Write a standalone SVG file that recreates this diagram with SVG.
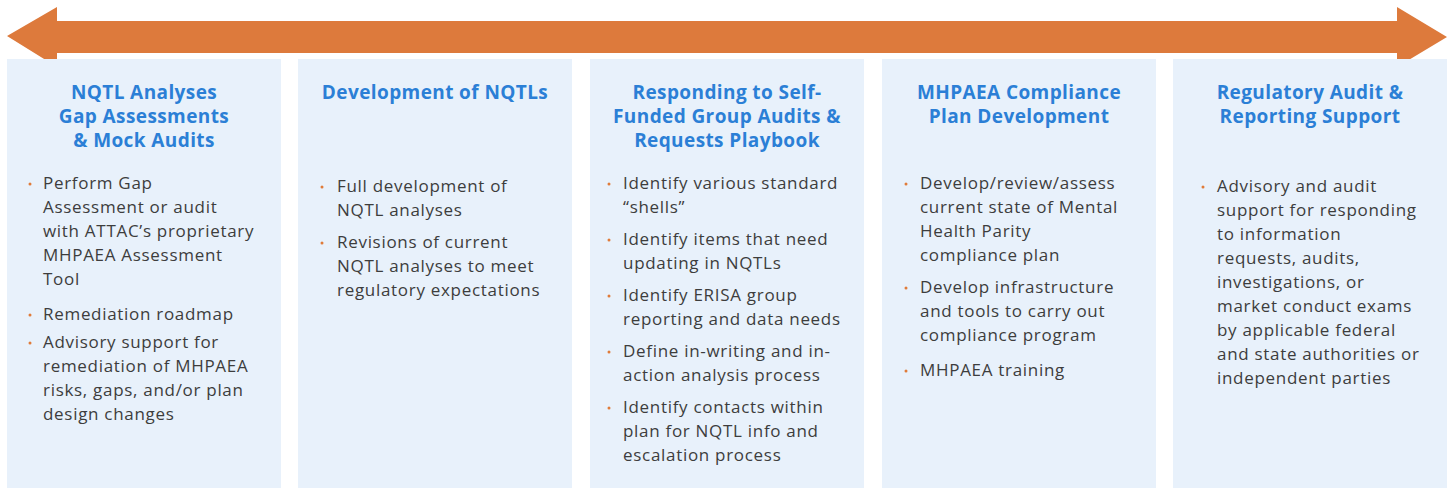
<svg xmlns="http://www.w3.org/2000/svg" width="1453" height="488" viewBox="0 0 1453 488">
<style>
.panel{fill:#e8f1fb}
.h{font-family:"Open Sans","Liberation Sans",sans-serif;font-weight:700;font-size:19px;letter-spacing:0.4px;fill:#2b7fd6;text-anchor:middle}
.t{font-family:"Open Sans","Liberation Sans",sans-serif;font-size:17px;letter-spacing:0.7px;fill:#3d3d3d}
.d{fill:#e07b39}
</style>
<rect width="1453" height="488" fill="#ffffff"/>
<g id="timeline-arrow">
<polygon points="7,36 57,7 57,21 1397,21 1397,7 1447,37 1397,67 1397,53 57,53 57,67" fill="#dd7a3c"/>
</g>
<g id="panel-1">
<rect class="panel" x="7" y="59" width="274" height="429"/>
<text class="h" x="144" y="99">NQTL Analyses</text>
<text class="h" x="144" y="123">Gap Assessments</text>
<text class="h" x="144" y="147">&amp; Mock Audits</text>
<circle class="d" cx="30" cy="184" r="1.5"/>
<text class="t" x="43" y="189">Perform Gap</text>
<text class="t" x="43" y="213">Assessment or audit</text>
<text class="t" x="43" y="237">with ATTAC’s proprietary</text>
<text class="t" x="43" y="261">MHPAEA Assessment</text>
<text class="t" x="43" y="285">Tool</text>
<circle class="d" cx="30" cy="315" r="1.5"/>
<text class="t" x="43" y="320">Remediation roadmap</text>
<circle class="d" cx="30" cy="343" r="1.5"/>
<text class="t" x="43" y="348">Advisory support for</text>
<text class="t" x="43" y="372">remediation of MHPAEA</text>
<text class="t" x="43" y="396">risks, gaps, and/or plan</text>
<text class="t" x="43" y="420">design changes</text>
</g>
<g id="panel-2">
<rect class="panel" x="298" y="59" width="274" height="429"/>
<text class="h" x="435" y="99">Development of NQTLs</text>
<circle class="d" cx="322" cy="187" r="1.5"/>
<text class="t" x="337" y="192">Full development of</text>
<text class="t" x="337" y="216">NQTL analyses</text>
<circle class="d" cx="322" cy="243" r="1.5"/>
<text class="t" x="337" y="248">Revisions of current</text>
<text class="t" x="337" y="272">NQTL analyses to meet</text>
<text class="t" x="337" y="296">regulatory expectations</text>
</g>
<g id="panel-3">
<rect class="panel" x="590" y="59" width="274" height="429"/>
<text class="h" x="727" y="99">Responding to Self-</text>
<text class="h" x="727" y="123">Funded Group Audits &amp;</text>
<text class="h" x="727" y="147">Requests Playbook</text>
<circle class="d" cx="609" cy="184" r="1.5"/>
<text class="t" x="623" y="189">Identify various standard</text>
<text class="t" x="623" y="213">“shells”</text>
<circle class="d" cx="609" cy="240" r="1.5"/>
<text class="t" x="623" y="245">Identify items that need</text>
<text class="t" x="623" y="269">updating in NQTLs</text>
<circle class="d" cx="609" cy="296" r="1.5"/>
<text class="t" x="623" y="301">Identify ERISA group</text>
<text class="t" x="623" y="325">reporting and data needs</text>
<circle class="d" cx="609" cy="352" r="1.5"/>
<text class="t" x="623" y="357">Define in-writing and in-</text>
<text class="t" x="623" y="381">action analysis process</text>
<circle class="d" cx="609" cy="408" r="1.5"/>
<text class="t" x="623" y="413">Identify contacts within</text>
<text class="t" x="623" y="437">plan for NQTL info and</text>
<text class="t" x="623" y="461">escalation process</text>
</g>
<g id="panel-4">
<rect class="panel" x="882" y="59" width="274" height="429"/>
<text class="h" x="1019" y="99">MHPAEA Compliance</text>
<text class="h" x="1019" y="123">Plan Development</text>
<circle class="d" cx="906" cy="184" r="1.5"/>
<text class="t" x="920" y="189">Develop/review/assess</text>
<text class="t" x="920" y="213">current state of Mental</text>
<text class="t" x="920" y="237">Health Parity</text>
<text class="t" x="920" y="261">compliance plan</text>
<circle class="d" cx="906" cy="288" r="1.5"/>
<text class="t" x="920" y="293">Develop infrastructure</text>
<text class="t" x="920" y="317">and tools to carry out</text>
<text class="t" x="920" y="341">compliance program</text>
<circle class="d" cx="906" cy="371" r="1.5"/>
<text class="t" x="920" y="376">MHPAEA training</text>
</g>
<g id="panel-5">
<rect class="panel" x="1173" y="59" width="274" height="429"/>
<text class="h" x="1310" y="99">Regulatory Audit &amp;</text>
<text class="h" x="1310" y="123">Reporting Support</text>
<circle class="d" cx="1203" cy="187" r="1.5"/>
<text class="t" x="1217" y="192">Advisory and audit</text>
<text class="t" x="1217" y="216">support for responding</text>
<text class="t" x="1217" y="240">to information</text>
<text class="t" x="1217" y="264">requests, audits,</text>
<text class="t" x="1217" y="288">investigations, or</text>
<text class="t" x="1217" y="312">market conduct exams</text>
<text class="t" x="1217" y="336">by applicable federal</text>
<text class="t" x="1217" y="360">and state authorities or</text>
<text class="t" x="1217" y="384">independent parties</text>
</g>
<g id="connectors"/>
</svg>
